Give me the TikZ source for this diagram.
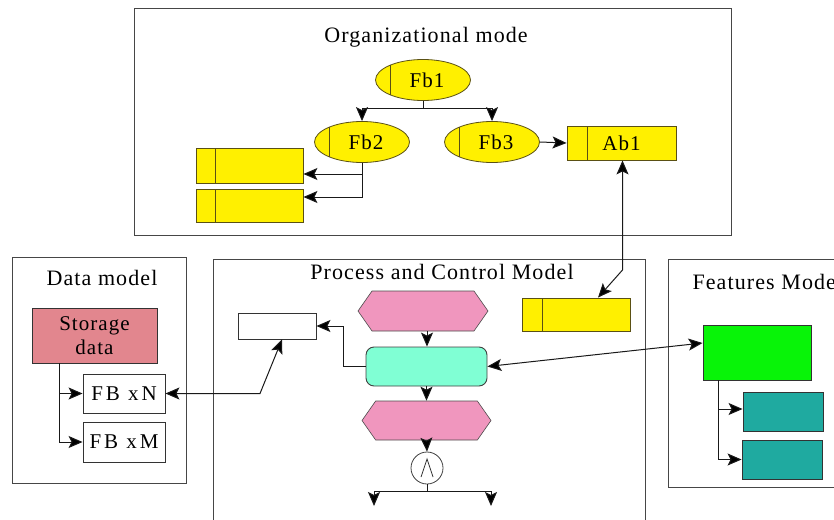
\documentclass[tikz,border=0pt]{standalone}
\usepackage{fontspec}
\setmainfont{Liberation Serif}[LetterSpace=5]
\usetikzlibrary{shapes.geometric,shapes.symbols,arrows.meta}

\definecolor{frame}{RGB}{70,70,70}
\definecolor{ylw}{RGB}{255,240,0}
\definecolor{ylwedge}{RGB}{90,80,20}
\definecolor{hexpink}{RGB}{240,150,190}
\definecolor{aqua}{RGB}{128,255,212}
\definecolor{storage}{RGB}{226,134,142}
\definecolor{lime}{RGB}{8,244,8}
\definecolor{teal2}{RGB}{31,170,160}

\tikzset{
  panel/.style={draw=frame, line width=1pt},
  paneltitle/.style={anchor=base, font=\fontsize{22}{24}\selectfont},
  lbl/.style={font=\fontsize{21}{23}\selectfont},
  widelbl/.style={font=\fontsize{21}{23}\selectfont\addfontfeature{LetterSpace=14}},
  box/.style={draw=black!80, line width=0.9pt, inner sep=0pt, rectangle},
  tabbox/.style={box, fill=ylw, draw=ylwedge,
    path picture={\draw[ylwedge, line width=0.9pt]
      ([xshift=#1]path picture bounding box.south west) --
      ([xshift=#1]path picture bounding box.north west);}},
  fn/.style={ellipse, fill=ylw, draw=ylwedge, line width=0.8pt, inner sep=0pt,
    minimum width=95pt, minimum height=41pt, lbl,
    path picture={\draw[ylwedge, line width=0.9pt]
      ([xshift=15pt]path picture bounding box.south west) --
      ([xshift=15pt]path picture bounding box.north west);}},
  hex/.style={signal, signal to=east and west, signal pointer angle=110,
    fill=hexpink, draw=black!70, line width=0.6pt, inner sep=0pt,
    minimum width=130pt, minimum height=40pt},
  conn/.style={draw=black!90, line width=1pt},
  arr/.style={conn, -{Stealth[length=14pt, width=12pt, inset=3pt, fill=black]}},
  darr/.style={conn, {Stealth[length=14pt, width=12pt, inset=3pt, fill=black]}-{Stealth[length=14pt, width=12pt, inset=3pt, fill=black]}},
}

\begin{document}
\begin{tikzpicture}[x=1pt,y=-1pt]
\useasboundingbox (0,0) rectangle (834,519);

% ---------- Organizational model ----------
\draw[panel] (134,9) rectangle (731,235);
\node[paneltitle] (orgT) at (426,43) {Organizational mode};

\node[fn] (Fb1) at (423,80) {\hspace*{8pt}Fb1};
\node[fn] (Fb2) at (362,142) {\hspace*{8pt}Fb2};
\node[fn] (Fb3) at (492,142) {\hspace*{8pt}Fb3};
\node[tabbox=20pt, minimum width=109pt, minimum height=34pt, lbl] (Ab1) at (621.5,143) {Ab1};
\node[tabbox=19pt, minimum width=107pt, minimum height=35pt] (Y1) at (249.5,165.5) {};
\node[tabbox=19pt, minimum width=107pt, minimum height=33pt] (Y2) at (249.5,205.5) {};

\draw[conn] (Fb1.south) -- ++(0,8) coordinate (j1);
\draw[arr] (j1) -| (Fb2.north);
\draw[arr] (j1) -| (Fb3.north);
\draw[arr] (Fb2.south) |- ([yshift=-8.5pt]Y1.east);
\draw[arr] (Fb2.south) |- ([yshift=8.5pt]Y2.east);
\draw[arr] (Fb3.east) -- (Ab1.west);

% ---------- Data model ----------
\draw[panel] (12,257) rectangle (186,483);
\node[paneltitle] (dataT) at (102,285) {Data model};
\node[box, fill=storage, minimum width=125pt, minimum height=55pt,
      align=center, lbl, font=\fontsize{21}{24}\selectfont] (Stor) at (94.5,335.5) {Storage\\data};
\node[box, fill=white, minimum width=82pt, minimum height=39pt, widelbl] (FBxN) at (124,393.5) {FB xN};
\node[box, fill=white, minimum width=82pt, minimum height=40pt, widelbl] (FBxM) at (124,442) {FB xM};
\draw[arr] ([xshift=-35.5pt]Stor.south) |- (FBxN.west);
\draw[arr] ([xshift=-35.5pt]Stor.south) |- (FBxM.west);

% ---------- Process and Control Model ----------
\draw[panel] (213,525) -- (213,259) -- (645,259) -- (645,525);
\node[paneltitle] (procT) at (442,279) {Process and Control Model};

\node[hex] (H1) at (423,311) {};
\node[box, fill=aqua, draw=black!75, rounded corners=8pt,
      minimum width=121pt, minimum height=39pt] (R) at (426.5,366.5) {};
\node[hex, minimum width=129pt, minimum height=39pt] (H2) at (426.5,420.5) {};
\node[circle, draw=black!75, fill=white, line width=0.8pt, minimum size=32pt, inner sep=0pt,
      path picture={\draw[black!80, line width=0.8pt]
        ([shift={(-6pt,-9pt)}]path picture bounding box.center) --
        ([shift={(0pt,9pt)}]path picture bounding box.center) --
        ([shift={(6pt,-9pt)}]path picture bounding box.center);}] (C) at (427,468) {};
\node[box, fill=white, minimum width=78pt, minimum height=26pt] (W) at (277,326) {};
\node[tabbox=20pt, minimum width=108pt, minimum height=33pt] (Y3) at (576,314.5) {};

\draw[arr] ([xshift=4pt]H1.south) -- ([xshift=4pt]H1.south |- R.north);
\draw[arr] (R.south) -- (H2.north);
\draw[arr] (H2.south) -- (C.north);
\draw[conn] (C.south) -- ++(0,7) coordinate (fork);
\coordinate (outL) at (374,506);
\coordinate (outR) at (491,506);
\draw[arr] (fork) -| (outL);
\draw[arr] (fork) -| (outR);
\draw[arr] (R.west) -- ++(-22,0) |- (W.east);

\coordinate (bendB) at (260,393.5);
\draw[darr] (FBxN.east) -- (bendB) -- ([xshift=5pt]W.south);

\coordinate (bendA) at (622.5,270);
\draw[darr] ([xshift=1pt]Ab1.south) -- (bendA) -- ([xshift=22pt]Y3.north);

% ---------- Features Model ----------
\draw[panel] (840,259) -- (668,259) -- (668,487) -- (840,487);
\node[paneltitle, anchor=base west] (featT) at (689,289) {Features Model};
\node[box, fill=lime, minimum width=108pt, minimum height=55pt] (G) at (757,352.5) {};
\node[box, fill=teal2, minimum width=80pt, minimum height=39pt] (T1) at (783,411.5) {};
\node[box, fill=teal2, minimum width=80pt, minimum height=39pt] (T2) at (782,459.5) {};
\draw[arr] ([xshift=-39pt]G.south) |- ([yshift=2.5pt]T1.west);
\draw[arr] ([xshift=-39pt]G.south) |- (T2.west);

\draw[darr] (R.east) -- ([yshift=9.5pt]G.west);
\end{tikzpicture}
\end{document}
